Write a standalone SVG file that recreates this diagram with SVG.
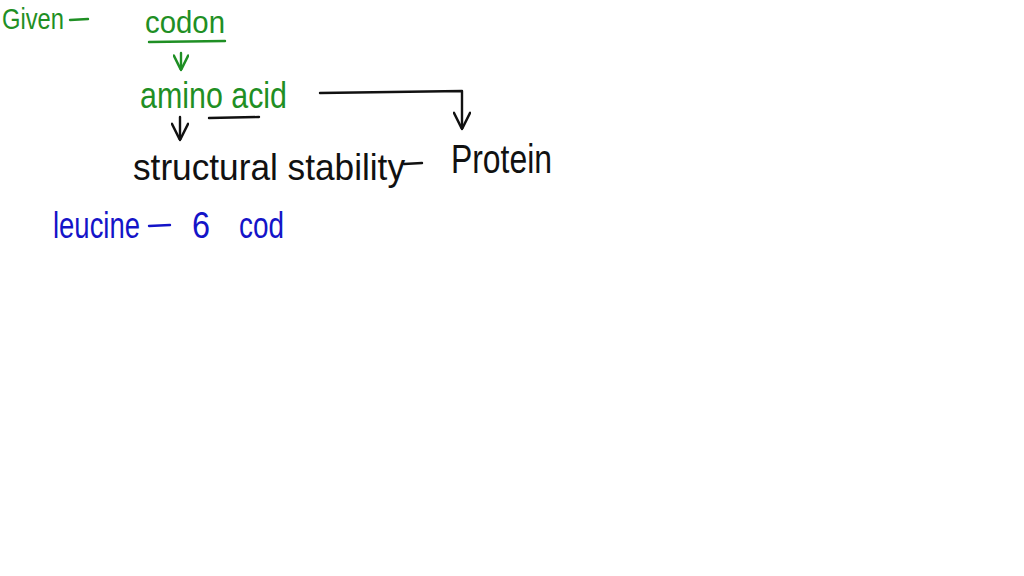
<svg xmlns="http://www.w3.org/2000/svg" width="1024" height="576" viewBox="0 0 1024 576">
<style>
text{font-family:"Liberation Sans","DejaVu Sans",sans-serif;}
.g{fill:#1f8f24;}
.k{fill:#111111;}
.b{fill:#1414c8;}
.ln{fill:none;stroke-width:2.4;stroke-linecap:round;stroke-linejoin:round;}
.lg{stroke:#1f8f24;}
.lk{stroke:#111111;}
.lb{stroke:#1414c8;}
</style>
<defs>
<marker id="ag" viewBox="0 0 10 10" refX="10" refY="5" markerWidth="16" markerHeight="16" markerUnits="userSpaceOnUse" orient="auto">
<path d="M1,0.5 L10,5 L1,9.5" fill="none" stroke="#1f8f24" stroke-width="1.6" stroke-linecap="round" stroke-linejoin="round"/>
</marker>
<marker id="ak" viewBox="0 0 10 10" refX="10" refY="5" markerWidth="18" markerHeight="18" markerUnits="userSpaceOnUse" orient="auto">
<path d="M1,0.5 L10,5 L1,9.5" fill="none" stroke="#111111" stroke-width="1.4" stroke-linecap="round" stroke-linejoin="round"/>
</marker>
</defs>
<rect width="1024" height="576" fill="#ffffff"/>
<g id="given">
<text class="g" x="2" y="29" font-size="30" textLength="62" lengthAdjust="spacingAndGlyphs">Given</text>
<line class="ln lg" x1="70" y1="20" x2="88" y2="19"/>
</g>
<g id="codon">
<text class="g" x="145" y="33" font-size="32" textLength="80" lengthAdjust="spacingAndGlyphs">codon</text>
<line class="ln lg" x1="149" y1="42" x2="225" y2="41"/>
</g>
<g id="amino-acid">
<text class="g" x="140" y="108" font-size="36" textLength="147" lengthAdjust="spacingAndGlyphs">amino acid</text>
</g>
<g id="structural-stability">
<text class="k" x="133" y="180" font-size="36" textLength="272" lengthAdjust="spacingAndGlyphs">structural stability</text>
<line class="ln lk" x1="404" y1="164" x2="422" y2="163"/>
</g>
<g id="protein">
<text class="k" x="451" y="173" font-size="40" textLength="101" lengthAdjust="spacingAndGlyphs">Protein</text>
</g>
<g id="leucine">
<text class="b" x="53" y="238" font-size="37" textLength="87" lengthAdjust="spacingAndGlyphs">leucine</text>
<line class="ln lb" x1="149" y1="226" x2="170" y2="225"/>
<text class="b" x="192" y="238" font-size="37" textLength="18" lengthAdjust="spacingAndGlyphs">6</text>
<text class="b" x="239" y="238" font-size="37" textLength="45" lengthAdjust="spacingAndGlyphs">cod</text>
</g>
<g id="connectors">
<line class="ln lg" x1="181" y1="53" x2="181" y2="70" marker-end="url(#ag)"/>
<line class="ln lk" x1="209" y1="118" x2="259" y2="117"/>
<line class="ln lk" x1="180" y1="117" x2="180" y2="140" marker-end="url(#ak)"/>
<polyline class="ln lk" points="320,93 462,91 462,129" marker-end="url(#ak)"/>
</g>
</svg>
